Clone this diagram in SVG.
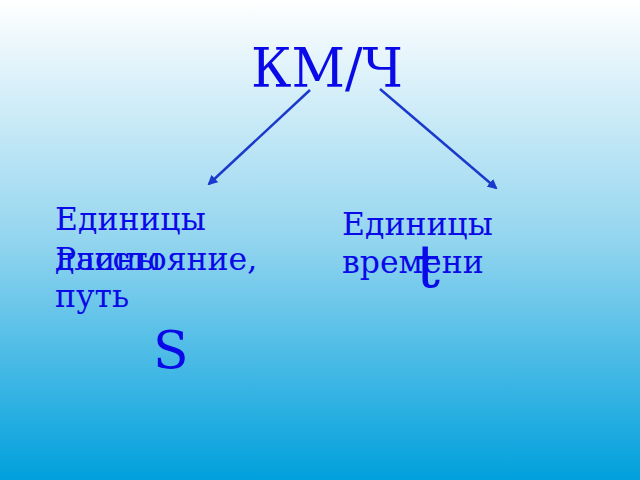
<svg xmlns="http://www.w3.org/2000/svg" width="640" height="480" viewBox="0 0 640 480">
<defs>
<linearGradient id="bg" x1="0" y1="0" x2="0" y2="1">
<stop offset="0" stop-color="#ffffff"/>
<stop offset="0.5" stop-color="#93d5ef"/>
<stop offset="1" stop-color="#00a0dc"/>
</linearGradient>
<marker id="ah" viewBox="0 0 10 10" refX="8" refY="5" markerWidth="4" markerHeight="4" orient="auto">
<path d="M0,0 L10,5 L0,10 z" fill="#1a3acc"/>
</marker>
<style>
.t{font-family:"DejaVu Serif",serif;fill:#0a0ae8}
.m{font-size:31.5px}
.c{stroke:#1a3acc;stroke-width:2.5;fill:none;marker-end:url(#ah)}
</style>
</defs>
<rect width="640" height="480" fill="url(#bg)"/>
<g id="connectors">
<line class="c" x1="310" y1="90" x2="209" y2="184"/>
<line class="c" x1="380" y1="89" x2="496" y2="188"/>
</g>
<g id="kmh"><text class="t" x="251" y="87" font-size="54" textLength="152" lengthAdjust="spacingAndGlyphs">КМ/Ч</text></g>
<g id="length">
<text class="t m" x="55" y="230">Единицы</text>
<text class="t m" x="55" y="270">длины</text>
</g>
<g id="distance">
<text class="t m" x="55" y="270">Расстояние,</text>
<text class="t m" x="55" y="307">путь</text>
</g>
<g id="time">
<text class="t m" x="342" y="235">Единицы</text>
<text class="t m" x="342" y="273">времени</text>
</g>
<g id="t"><text class="t" x="416" y="287" font-size="60">t</text></g>
<g id="s"><text class="t" x="153" y="368" font-size="52">S</text></g>
</svg>
